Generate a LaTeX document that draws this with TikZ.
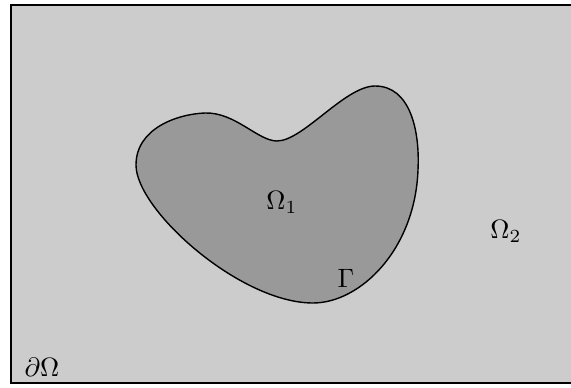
\documentclass[tikz,border=0pt]{standalone}
\usepackage{graphicx}
\newcommand{\biglbl}[1]{\scalebox{2.65}{#1}}
\begin{document}
\begin{tikzpicture}[x=1pt,y=-1pt,
  lbl/.style={inner sep=0pt}]
\useasboundingbox (0,0) rectangle (571,388);
\fill[white] (0,0) rectangle (571,388);
\draw[line width=2pt, fill={rgb,255:red,204;green,204;blue,204}] (11,5) rectangle (572,383);
\draw[line width=1.4pt, fill={rgb,255:red,153;green,153;blue,153}]
  (136,165) .. controls (136,128) and (178,114) .. (205,113)
  .. controls (235,112) and (258,141) .. (277,141)
  .. controls (303,141) and (345,86) .. (375,86)
  .. controls (410,86) and (420,130) .. (418,170)
  .. controls (415,250) and (360,303) .. (313,303)
  .. controls (240,303) and (136,210) .. (136,165) -- cycle;
\node[lbl] (o1) at (282,202) {\biglbl{$\Omega_1$}};
\node[lbl] (g) at (346,278) {\biglbl{$\Gamma$}};
\node[lbl] (o2) at (506,231) {\biglbl{$\Omega_2$}};
\node[lbl] (do) at (42,367) {\biglbl{$\partial\Omega$}};
\end{tikzpicture}
\end{document}
